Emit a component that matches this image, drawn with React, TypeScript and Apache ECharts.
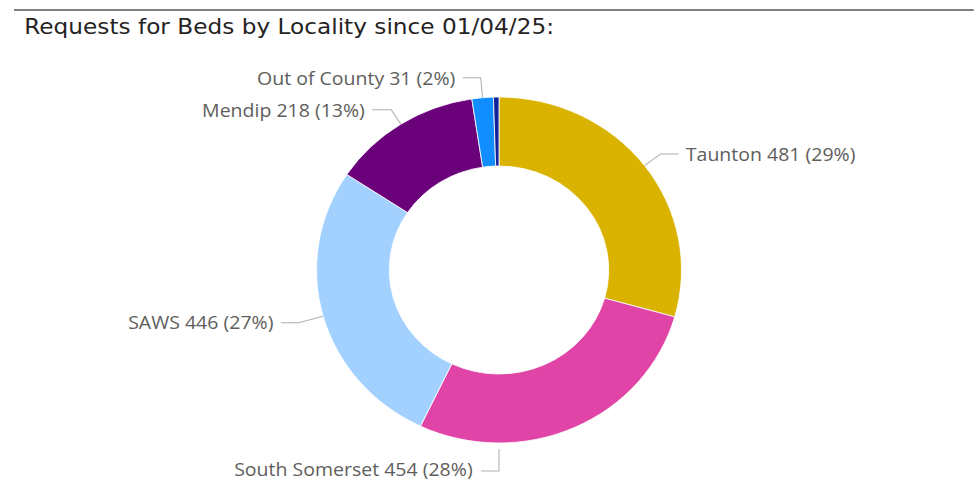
import React, { useEffect, useRef } from "react";
import * as echarts from "echarts";

const localities = ["Taunton", "South Somerset", "SAWS", "Mendip", "Out of County", "Unknown"];
const requests = [481, 454, 446, 218, 31, 8];
const sliceColors = ["#D9B300", "#E044A7", "#A3D1FF", "#6B007B", "#118DFF", "#12239E"];
const showLabel = [true, true, true, true, true, false];
const lineLength = [19, 17, 24, 17, 20, 10];
const lineLength2 = [17, 17, 17, 18, 17, 10];
const titleText = "Requests for Beds by Locality since 01/04/25:";

const S = 1.055; // horizontal stretch of the reference picture
const W = 974;
const H = 496;
const CX = 473;
const CY = 270;
const R_IN = 104;
const R_OUT = 173;

export default function App() {
  const ref = useRef<HTMLDivElement>(null);
  useEffect(() => {
    if (!ref.current) return;
    const chart = echarts.init(ref.current, undefined, { renderer: "svg" });
    const labelFont = "'Segoe UI', 'Open Sans', 'Noto Sans', sans-serif";
    chart.setOption({
      animation: false,
      backgroundColor: "#ffffff",
      title: {
        text: titleText,
        left: 18,
        top: 10,
        textStyle: {
          fontFamily: "'DejaVu Sans', Roboto, sans-serif",
          fontSize: 22,
          fontWeight: "normal",
          color: "#252423",
        },
      },
      graphic: [
        {
          type: "line",
          shape: { x1: 14 / S, y1: 10, x2: W / S, y2: 10 },
          style: { stroke: "#808080", lineWidth: 2 },
        },
      ],
      series: [
        {
          type: "pie",
          center: [CX, CY],
          radius: [R_IN, R_OUT],
          startAngle: 90,
          clockwise: true,
          avoidLabelOverlap: false,
          percentPrecision: 0,
          itemStyle: { borderColor: "#ffffff", borderWidth: 0.8 },
          label: {
            formatter: "{b} {c} ({d}%)",
            fontSize: 18.5,
            fontFamily: labelFont,
            color: "#605E5C",
            distanceToLabelLine: 7,
          },
          labelLine: {
            length: 17,
            length2: 17,
            lineStyle: { color: "#B3B0AD", width: 1 },
          },
          labelLayout: (params: any) => {
            if (params.dataIndex === 1) {
              const yBottom = CY + R_OUT;
              const yLine = yBottom + 28;
              return {
                x: CX - 25,
                y: yLine - 2,
                align: "right",
                verticalAlign: "middle",
                labelLinePoints: [
                  [CX, yBottom + 6],
                  [CX, yLine],
                  [CX - 17, yLine],
                ],
              };
            }
            return {};
          },
          data: localities.map((name, i) => ({
            name,
            value: requests[i],
            itemStyle: { color: sliceColors[i] },
            label: { show: showLabel[i] },
            labelLine: { show: showLabel[i], length: lineLength[i], length2: lineLength2[i] },
          })),
        },
      ],
    });
    return () => chart.dispose();
  }, []);
  return (
    <div
      style={{
        position: "absolute",
        left: 0,
        top: 0,
        width: W,
        height: H,
        overflow: "hidden",
        background: "#ffffff",
      }}
    >
      <div
        ref={ref}
        style={{
          width: W / S,
          height: H,
          transform: `scaleX(${S})`,
          transformOrigin: "0 0",
        }}
      />
    </div>
  );
}
